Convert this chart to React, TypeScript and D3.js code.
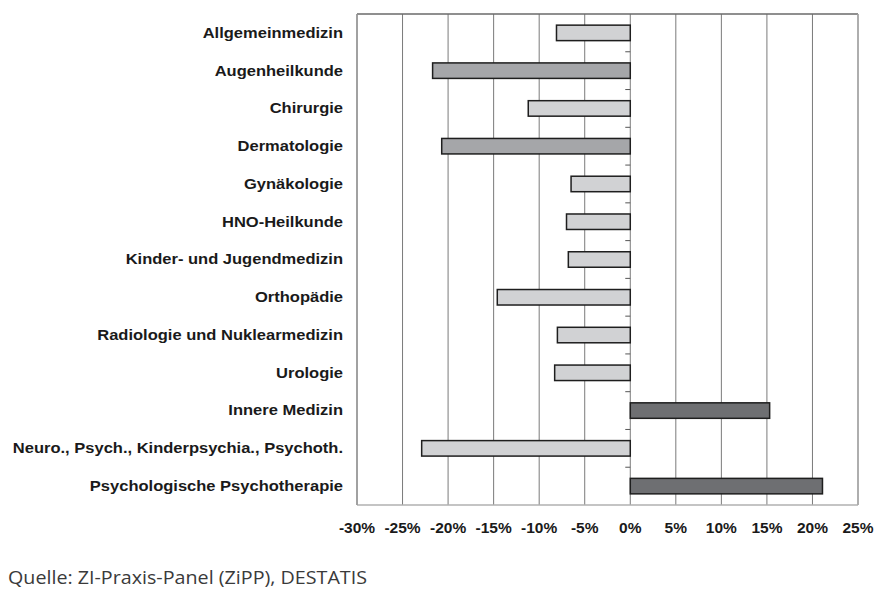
import * as d3 from "d3";

// Veränderung je Fachgebiet, in Prozent
const categories = [
  "Allgemeinmedizin",
  "Augenheilkunde",
  "Chirurgie",
  "Dermatologie",
  "Gynäkologie",
  "HNO-Heilkunde",
  "Kinder- und Jugendmedizin",
  "Orthopädie",
  "Radiologie und Nuklearmedizin",
  "Urologie",
  "Innere Medizin",
  "Neuro., Psych., Kinderpsychia., Psychoth.",
  "Psychologische Psychotherapie",
];
const values = [-8.1, -21.7, -11.2, -20.7, -6.5, -7.0, -6.8, -14.6, -8.0, -8.3, 15.3, -22.9, 21.1];
// shade group per bar: 0 light, 1 mid, 2 dark
const shades = [0, 1, 0, 1, 0, 0, 0, 0, 0, 0, 2, 0, 2];
const xTicks = [-30, -25, -20, -15, -10, -5, 0, 5, 10, 15, 20, 25];

const fills = ["#d1d2d4", "#a5a6a9", "#6e6f72"];
const font = "Liberation Sans, Arial, sans-serif";

export default function App() {
  const width = 887;
  const height = 607;
  const margin = { top: 14, right: 29, bottom: 102, left: 357 };
  const innerW = width - margin.left - margin.right;
  const innerH = height - margin.top - margin.bottom;

  const x = d3.scaleLinear().domain([-30, 25]).range([0, innerW]);
  const y = d3.scaleBand().domain(categories).range([0, innerH]).paddingInner(0.59).paddingOuter(0.295);
  const bounds = d3.range(1, categories.length).map((i) => i * (innerH / categories.length));

  return (
    <svg width={width} height={height} style={{ position: "absolute", left: 0, top: 0, background: "#fff" }}>
      <g transform={`translate(${margin.left},${margin.top})`}>
        {xTicks.map((t) => (
          <line key={t} x1={x(t)} x2={x(t)} y1={0} y2={innerH} stroke="#7a7a7a" strokeWidth={1} />
        ))}
        <line x1={0} x2={innerW} y1={0} y2={0} stroke="#6a6a6a" strokeWidth={1.5} />
        <line x1={0} x2={innerW} y1={innerH} y2={innerH} stroke="#b0b0b0" strokeWidth={1.5} />
        <line x1={0} x2={0} y1={0} y2={innerH} stroke="#999" strokeWidth={1.5} />
        <line x1={innerW} x2={innerW} y1={0} y2={innerH} stroke="#aaa" strokeWidth={1.5} />
        {bounds.map((b, i) => (
          <line key={i} x1={x(0) - 5} x2={x(0)} y1={b} y2={b} stroke="#555" strokeWidth={1} />
        ))}
        {categories.map((c, i) => {
          const v = values[i];
          const x0 = x(Math.min(0, v));
          const w = Math.abs(x(v) - x(0));
          return (
            <rect
              key={c}
              x={x0}
              y={y(c)}
              width={w}
              height={y.bandwidth()}
              fill={fills[shades[i]]}
              stroke="#1e1e1e"
              strokeWidth={1.5}
            />
          );
        })}
        {categories.map((c) => (
          <text
            key={c}
            transform={`translate(-14,${(y(c) ?? 0) + y.bandwidth() / 2}) scale(1.18,1)`}
            dy="0.35em"
            textAnchor="end"
            fontFamily={font}
            fontWeight="bold"
            fontSize={14}
            fill="#1a1a1a"
          >
            {c}
          </text>
        ))}
        {xTicks.map((t) => (
          <text
            key={t}
            x={x(t)}
            y={innerH + 28}
            textAnchor="middle"
            fontFamily={font}
            fontWeight="bold"
            fontSize={15.5}
            fill="#1a1a1a"
          >
            {t}%
          </text>
        ))}
      </g>
      <text
        x={8}
        y={584}
        fontFamily="Open Sans, sans-serif"
        fontWeight={400}
        fontSize={18.5}
        fill="#3a3a3a"
        textLength={359}
        lengthAdjust="spacingAndGlyphs"
      >
        Quelle: ZI-Praxis-Panel (ZiPP), DESTATIS
      </text>
    </svg>
  );
}
